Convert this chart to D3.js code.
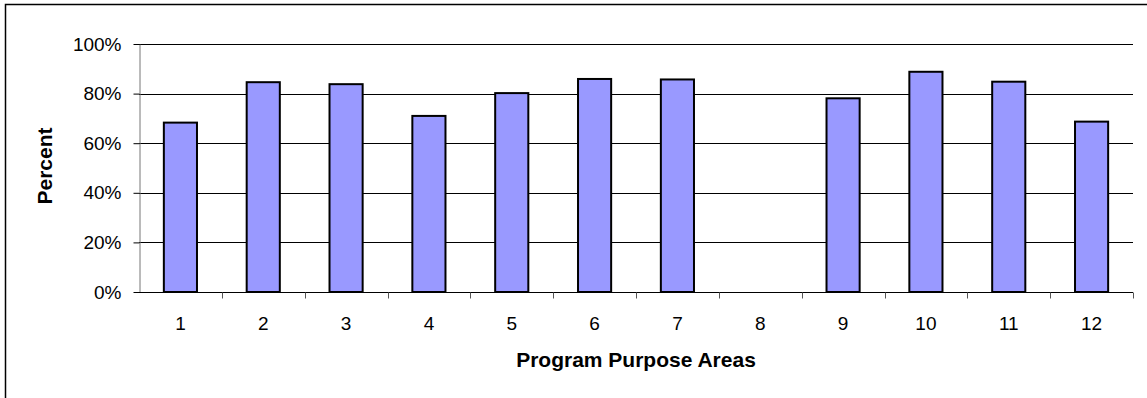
<!DOCTYPE html>
<html>
<head>
<meta charset="utf-8">
<script src="https://cdn.jsdelivr.net/npm/d3@7"></script>
<style>
  html, body { margin: 0; padding: 0; background: #fff; }
  svg { display: block; font-family: "Liberation Sans", Arial, sans-serif; }
</style>
</head>
<body>
<div id="chart"></div>
<script>
// ---- data ----
const areas = ["1", "2", "3", "4", "5", "6", "7", "8", "9", "10", "11", "12"];
const percents = [0.683, 0.846, 0.838, 0.71, 0.802, 0.859, 0.857, null, 0.781, 0.888, 0.848, 0.687];
const yTicks = [0, 0.2, 0.4, 0.6, 0.8, 1.0];

// ---- layout ----
const W = 1147, H = 398;
const margin = { top: 44, right: 14, bottom: 106, left: 139 };
const width = W - margin.left - margin.right;
const height = H - margin.top - margin.bottom;

const svg = d3.select("#chart").append("svg")
  .attr("width", W)
  .attr("height", H);

// outer chart border (only top & left visible in frame)
svg.append("path")
  .attr("d", `M5.5,${H} V4.5 H${W}`)
  .attr("fill", "none")
  .attr("stroke", "#000")
  .attr("stroke-width", 1.5);

const g = svg.append("g")
  .attr("transform", `translate(${margin.left},${margin.top})`);

const x = d3.scaleBand()
  .domain(areas)
  .range([0, width])
  .paddingInner(0.6)
  .paddingOuter(0.3);

const xEdge = d3.scaleLinear()
  .domain([0, areas.length])
  .range([0, width]);

const y = d3.scaleLinear()
  .domain([0, 1])
  .range([height, 0]);

// gridlines
g.append("g")
  .selectAll("line")
  .data(yTicks.filter(d => d > 0))
  .join("line")
  .attr("x1", 0)
  .attr("x2", width)
  .attr("y1", d => Math.round(y(d)) + 0.5)
  .attr("y2", d => Math.round(y(d)) + 0.5)
  .attr("stroke", "#000")
  .attr("stroke-width", 1);

// bars
g.append("g")
  .selectAll("rect")
  .data(areas.map((a, i) => ({ a, v: percents[i] })).filter(d => d.v != null))
  .join("rect")
  .attr("x", d => x(d.a))
  .attr("y", d => y(d.v))
  .attr("width", x.bandwidth())
  .attr("height", d => y(0) - y(d.v))
  .attr("fill", "#9999ff")
  .attr("stroke", "#000")
  .attr("stroke-width", 2);

// y axis
const yAxis = g.append("g")
  .attr("transform", "translate(0.5,0)")
  .call(d3.axisLeft(y).tickValues(yTicks).tickFormat(d3.format(".0%")).tickSize(6).tickPadding(12).tickSizeOuter(0));
yAxis.select(".domain").attr("stroke", "#777");
yAxis.selectAll(".tick line").attr("stroke", "#000");
yAxis.selectAll("text")
  .attr("fill", "#000")
  .style("font-size", "19px");

// x axis
const xAxis = g.append("g")
  .attr("transform", `translate(0,${Math.round(height) + 0.5})`);
xAxis.append("line")
  .attr("x1", 0).attr("x2", width)
  .attr("stroke", "#000");
xAxis.selectAll(".edge")
  .data(d3.range(1, areas.length + 1))
  .join("line")
  .attr("class", "edge")
  .attr("x1", d => Math.round(xEdge(d)) + 0.5)
  .attr("x2", d => Math.round(xEdge(d)) + 0.5)
  .attr("y1", 0).attr("y2", 6)
  .attr("stroke", "#555");
xAxis.selectAll(".lbl")
  .data(areas)
  .join("text")
  .attr("class", "lbl")
  .attr("x", d => x(d) + x.bandwidth() / 2)
  .attr("y", 37)
  .attr("text-anchor", "middle")
  .style("font-size", "19px")
  .text(d => d);

// axis titles
svg.append("text")
  .attr("x", margin.left + width / 2)
  .attr("y", 367)
  .attr("text-anchor", "middle")
  .style("font-size", "21px")
  .style("font-weight", "bold")
  .text("Program Purpose Areas");

svg.append("text")
  .attr("transform", `translate(52,${margin.top + height / 2 - 2}) rotate(-90)`)
  .attr("text-anchor", "middle")
  .style("font-size", "21px")
  .style("font-weight", "bold")
  .text("Percent");
</script>
</body>
</html>
